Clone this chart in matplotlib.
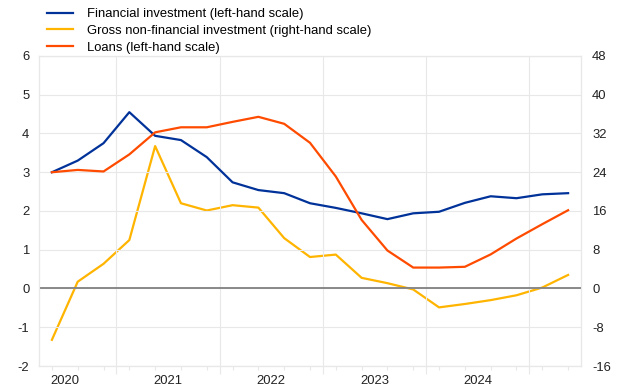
import numpy as np
import matplotlib.pyplot as plt
from matplotlib.lines import Line2D

# quarterly observations, 2020 Q2 to 2025 Q2
quarters = ["2020Q2", "2020Q3", "2020Q4", "2021Q1", "2021Q2", "2021Q3", "2021Q4",
            "2022Q1", "2022Q2", "2022Q3", "2022Q4", "2023Q1", "2023Q2", "2023Q3",
            "2023Q4", "2024Q1", "2024Q2", "2024Q3", "2024Q4", "2025Q1", "2025Q2"]

financial = [3.00, 3.30, 3.75, 4.55, 3.94, 3.83, 3.39, 2.74, 2.54, 2.46, 2.20,
             2.08, 1.94, 1.79, 1.94, 1.98, 2.21, 2.38, 2.33, 2.43, 2.46]
gross_nonfin = [-10.6, 1.4, 5.1, 10.0, 29.4, 17.6, 16.1, 17.2, 16.7, 10.4, 6.5,
                7.0, 2.2, 1.1, -0.2, -3.9, -3.2, -2.4, -1.4, 0.2, 2.8]
loans = [3.00, 3.06, 3.02, 3.46, 4.03, 4.16, 4.16, 4.30, 4.43, 4.25, 3.76,
         2.89, 1.77, 0.98, 0.54, 0.54, 0.56, 0.88, 1.29, 1.66, 2.02]

labels = ["Financial investment (left-hand scale)",
          "Gross non-financial investment (right-hand scale)",
          "Loans (left-hand scale)"]
years = [2020, 2021, 2022, 2023, 2024]

blue = "#003299"
yellow = "#FFB400"
orange = "#FF4B00"
grid_col = "#e8e8e8"
fs = 9.4

plt.rcParams["font.family"] = ["Liberation Sans", "DejaVu Sans"]
plt.rcParams["axes.unicode_minus"] = False

# convert quarter labels to decimal year at mid-quarter
x = np.array([int(q[:4]) + (int(q[5]) - 0.5) / 4 for q in quarters])

fig = plt.figure(figsize=(6.2, 3.88), dpi=100)
ax = fig.add_axes([0.0629, 0.0567, 0.8742, 0.799])
ax2 = ax.twinx()

ax.set_ylim(-2, 6)
ax2.set_ylim(-16, 48)
ax.set_yticks(range(-2, 7))
ax2.set_yticks(range(-16, 49, 8))
ax.set_xlim(2020.25, 2025.5)

ax.grid(True, axis="both", color=grid_col, linewidth=0.8)
ax.set_axisbelow(True)
ax.axhline(0, color="#808080", linewidth=1.3, zorder=1)

ax.plot(x, financial, color=blue, linewidth=1.6, zorder=3)
ax.plot(x, loans, color=orange, linewidth=1.6, zorder=3)
ax2.plot(x, gross_nonfin, color=yellow, linewidth=1.6, zorder=2)
ax.set_zorder(ax2.get_zorder() + 1)
ax.patch.set_visible(False)

# x axis: year boundaries as gridlines, quarter ticks, year labels centred
ax.set_xticks(np.arange(2021, 2026))
ax.set_xticklabels([])
ax.set_xticks(x, minor=True)
ax.tick_params(axis="x", which="major", length=6, color=grid_col, width=0.8)
ax.tick_params(axis="x", which="minor", length=3, color=grid_col, width=0.8)
for yr in years:
    ax.text(yr + 0.5, -0.028, str(yr), transform=ax.get_xaxis_transform(),
            ha="center", va="top", fontsize=fs, color="#222222")

ax.tick_params(axis="y", length=0, labelsize=fs, labelcolor="#222222", pad=7)
ax2.tick_params(axis="y", length=0, labelsize=fs, labelcolor="#222222", pad=8)

for a in (ax, ax2):
    for s in a.spines.values():
        s.set_color(grid_col)
        s.set_linewidth(0.8)

handles = [Line2D([], [], color=c, linewidth=1.6) for c in (blue, yellow, orange)]
fig.legend(handles, labels, loc="upper left", bbox_to_anchor=(0.0758, 0.979),
           frameon=False, fontsize=fs, handlelength=2.0, handletextpad=1.1,
           labelspacing=0.35, borderaxespad=0, borderpad=0)

fig.savefig("out.png", dpi=100)
